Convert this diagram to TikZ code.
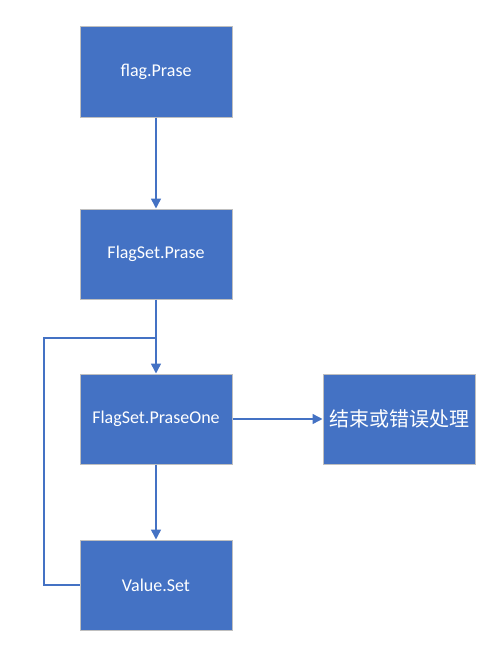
\documentclass[tikz,border=0pt]{standalone}
\usepackage{fontspec}
\setmainfont{Carlito}
\newfontfamily\cjk{Noto Sans CJK SC}
\usetikzlibrary{arrows.meta}
\definecolor{boxblue}{HTML}{4472C4}
\definecolor{boxedge}{HTML}{BFBFBF}
\tikzset{
  procbox/.style={draw=boxedge, line width=0.75pt, fill=boxblue, text=white,
    minimum width=114pt, minimum height=67.5pt, inner sep=0pt,
    font=\fontsize{13.5}{16}\selectfont},
  flow/.style={draw=boxblue, line width=1.1pt, -{Triangle[length=7.5pt,width=7.5pt]}},
  flowplain/.style={draw=boxblue, line width=1.1pt}
}
\begin{document}
\begin{tikzpicture}[x=0.75pt,y=-0.75pt]
\useasboundingbox (0,0) rectangle (479,660);
\node[procbox] (a) at (156,72) {flag.Prase};
\node[procbox] (b) at (156,254) {FlagSet.Prase};
\node[procbox] (c) at (156,419) {FlagSet.PraseOne};
\node[procbox] (d) at (156,585) {Value.Set};
\node[procbox, font=\cjk\fontsize{15}{18}\selectfont] (e) at (399,419) {结束或错误处理};
\coordinate (j) at (156,338);
\coordinate (l1) at (44,585);
\coordinate (l2) at (44,338);
\draw[flow] (a) -- (b);
\draw[flow] (b) -- (c);
\draw[flow] (c) -- (d);
\draw[flow] (c) -- (e);
\draw[flowplain] (d.west) -- (l1) -- (l2) -- (j);
\end{tikzpicture}
\end{document}
